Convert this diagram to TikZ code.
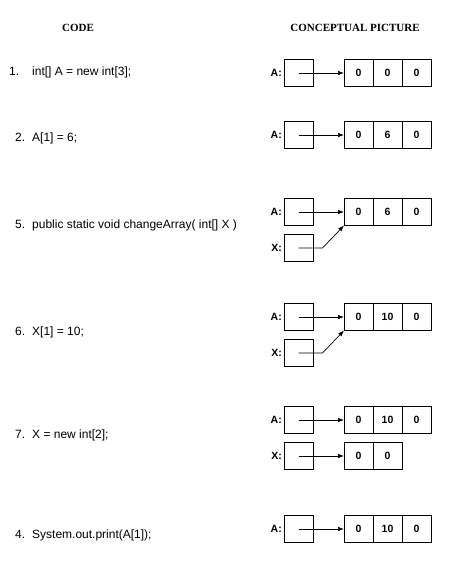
\documentclass[tikz,border=0pt]{standalone}
\usepackage{fontspec}
\setmainfont{Liberation Serif}
\setsansfont{Liberation Sans}
\usetikzlibrary{arrows.meta,positioning}
\tikzset{
  heading/.style={font=\fontsize{11}{13}\selectfont\bfseries},
  codeline/.style={anchor=west,inner sep=0pt,font=\sffamily\fontsize{12}{14}\selectfont},
  refbox/.style={draw,line width=0.7pt,minimum width=29pt,minimum height=27pt,inner sep=0pt,outer sep=0pt},
  cell/.style={refbox,font=\sffamily\bfseries\fontsize{10.5}{12}\selectfont},
  varname/.style={inner sep=0pt,font=\sffamily\bfseries\fontsize{10.5}{12}\selectfont},
  ptr/.style={-{Latex[length=6pt,width=4.5pt]},line width=0.7pt}
}

\begin{document}
\begin{tikzpicture}[x=1pt,y=-1pt]
    \useasboundingbox (0,0) rectangle (461,570);
    \node[heading] (hcode) at (78,28) {CODE};
    \node[heading] (hpic) at (355,28) {CONCEPTUAL PICTURE};

    % 1. new array
    \node[codeline] (code1) at (9,72) {1.\hspace{13pt}int[] A = new int[3];};
    \node[refbox] (a1) at (298.5,73) {};
    \node[varname,left=2pt of a1] (a1lbl) {A:};
    \node[cell] (c1a) at (358.5,73) {0};
    \node[cell,right=0pt of c1a] (c1b) {0};
    \node[cell,right=0pt of c1b] (c1c) {0};
    \draw[ptr] (a1.center) -- (c1a.west);

    % 2. assignment
    \node[codeline] (code2) at (15,138) {2.\hspace{7pt}A[1] = 6;};
    \node[refbox] (a2) at (298.5,135) {};
    \node[varname,left=2pt of a2] (a2lbl) {A:};
    \node[cell] (c2a) at (358.5,135) {0};
    \node[cell,right=0pt of c2a] (c2b) {6};
    \node[cell,right=0pt of c2b] (c2c) {0};
    \draw[ptr] (a2.center) -- (c2a.west);

    % 5. method call
    \node[codeline] (code5) at (15,225) {5.\hspace{7pt}public static void changeArray( int[] X )};
    \node[refbox] (a5) at (298.5,212) {};
    \node[varname,left=2pt of a5] (a5lbl) {A:};
    \node[refbox] (x5) at (298.5,248) {};
    \node[varname,left=2pt of x5] (x5lbl) {X:};
    \node[cell] (c5a) at (358.5,212) {0};
    \node[cell,right=0pt of c5a] (c5b) {6};
    \node[cell,right=0pt of c5b] (c5c) {0};
    \draw[ptr] (a5.center) -- (c5a.west);
    \draw[ptr] (x5.center) -- ++(24,0) -- (c5a.south west);

    % 6. change through X
    \node[codeline] (code6) at (15,332) {6.\hspace{7pt}X[1] = 10;};
    \node[refbox] (a6) at (298.5,317) {};
    \node[varname,left=2pt of a6] (a6lbl) {A:};
    \node[refbox] (x6) at (298.5,353) {};
    \node[varname,left=2pt of x6] (x6lbl) {X:};
    \node[cell] (c6a) at (358.5,317) {0};
    \node[cell,right=0pt of c6a] (c6b) {10};
    \node[cell,right=0pt of c6b] (c6c) {0};
    \draw[ptr] (a6.center) -- (c6a.west);
    \draw[ptr] (x6.center) -- ++(24,0) -- (c6a.south west);

    % 7. X gets a new array
    \node[codeline] (code7) at (15,435) {7.\hspace{7pt}X = new int[2];};
    \node[refbox] (a7) at (298.5,420) {};
    \node[varname,left=2pt of a7] (a7lbl) {A:};
    \node[refbox] (x7) at (298.5,456) {};
    \node[varname,left=2pt of x7] (x7lbl) {X:};
    \node[cell] (c7a) at (358.5,420) {0};
    \node[cell,right=0pt of c7a] (c7b) {10};
    \node[cell,right=0pt of c7b] (c7c) {0};
    \node[cell] (d7a) at (358.5,456) {0};
    \node[cell,right=0pt of d7a] (d7b) {0};
    \draw[ptr] (a7.center) -- (c7a.west);
    \draw[ptr] (x7.center) -- (d7a.west);

    % 4. print
    \node[codeline] (code4) at (15,535) {4.\hspace{7pt}System.out.print(A[1]);};
    \node[refbox] (a4) at (298.5,529) {};
    \node[varname,left=2pt of a4] (a4lbl) {A:};
    \node[cell] (c4a) at (358.5,529) {0};
    \node[cell,right=0pt of c4a] (c4b) {10};
    \node[cell,right=0pt of c4b] (c4c) {0};
    \draw[ptr] (a4.center) -- (c4a.west);
\end{tikzpicture}
\end{document}
